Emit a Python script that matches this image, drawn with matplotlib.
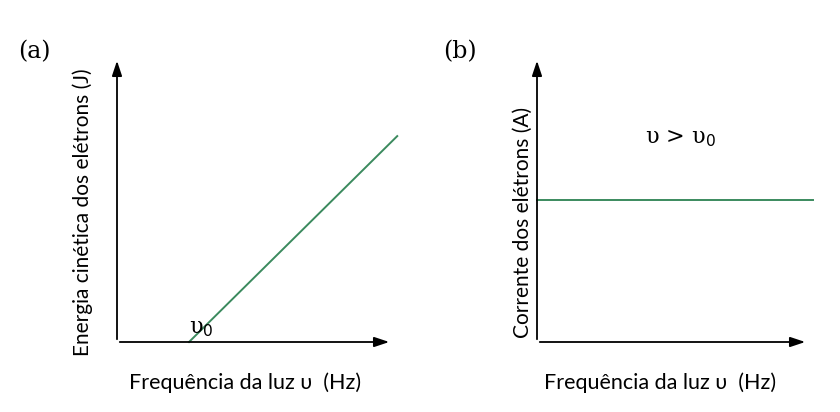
import matplotlib.pyplot as plt

# panel (a): kinetic energy vs frequency
freq_a = [2.75, 10.7]
energy_a = [0.0, 7.25]
# panel (b): current vs frequency
freq_b = [0.0, 10.2]
current_b = [5.0, 5.0]

GREEN = '#3b8a5e'
W, H = 840, 412

plt.rcParams['font.family'] = ['Lato', 'DejaVu Sans']
fig = plt.figure(figsize=(8.4, 4.12), dpi=100)


def make_axes(x0, x1, y0, y1):
    ax = fig.add_axes([x0 / W, 1 - y1 / H, (x1 - x0) / W, (y1 - y0) / H])
    ax.set_xlim(0, 10.5)
    ax.set_ylim(0, 10)
    ax.axis('off')
    arrow = dict(arrowstyle='-|>,head_length=0.9,head_width=0.3', color='black', lw=1.3)
    ax.annotate('', xy=(0, 1.0), xytext=(0, 0), xycoords='axes fraction', arrowprops=arrow)
    ax.annotate('', xy=(1.0, 0), xytext=(0, 0), xycoords='axes fraction', arrowprops=arrow)
    return ax


ax1 = make_axes(117, 392, 58, 342)
ax1.plot(freq_a, energy_a, color=GREEN, lw=1.4, clip_on=False)
ax1.text(2.75, 0.3, 'υ$_0$', fontsize=16, family='DejaVu Serif')

ax2 = make_axes(537, 808, 58, 342)
ax2.set_xlim(0, 10)
ax2.plot(freq_b, current_b, color=GREEN, lw=1.4, clip_on=False)
ax2.text(4.0, 7.0, 'υ > υ$_0$', fontsize=16, family='DejaVu Serif')

fig.text(18 / W, 1 - 52 / H, '(a)', fontsize=17, family='DejaVu Serif', va='center')
fig.text(443 / W, 1 - 52 / H, '(b)', fontsize=17, family='DejaVu Serif', va='center')

fig.text(83 / W, 1 - 212 / H, 'Energia cinética dos elétrons (J)', rotation=90,
         fontsize=15, ha='center', va='center')
fig.text(523 / W, 1 - 222 / H, 'Corrente dos elétrons (A)', rotation=90,
         fontsize=15, ha='center', va='center')
fig.text(245 / W, 1 - 383 / H, 'Frequência da luz υ  (Hz)', fontsize=15.5,
         ha='center', va='center')
fig.text(660 / W, 1 - 383 / H, 'Frequência da luz υ  (Hz)', fontsize=15.5,
         ha='center', va='center')

fig.savefig('out.png', dpi=100)
